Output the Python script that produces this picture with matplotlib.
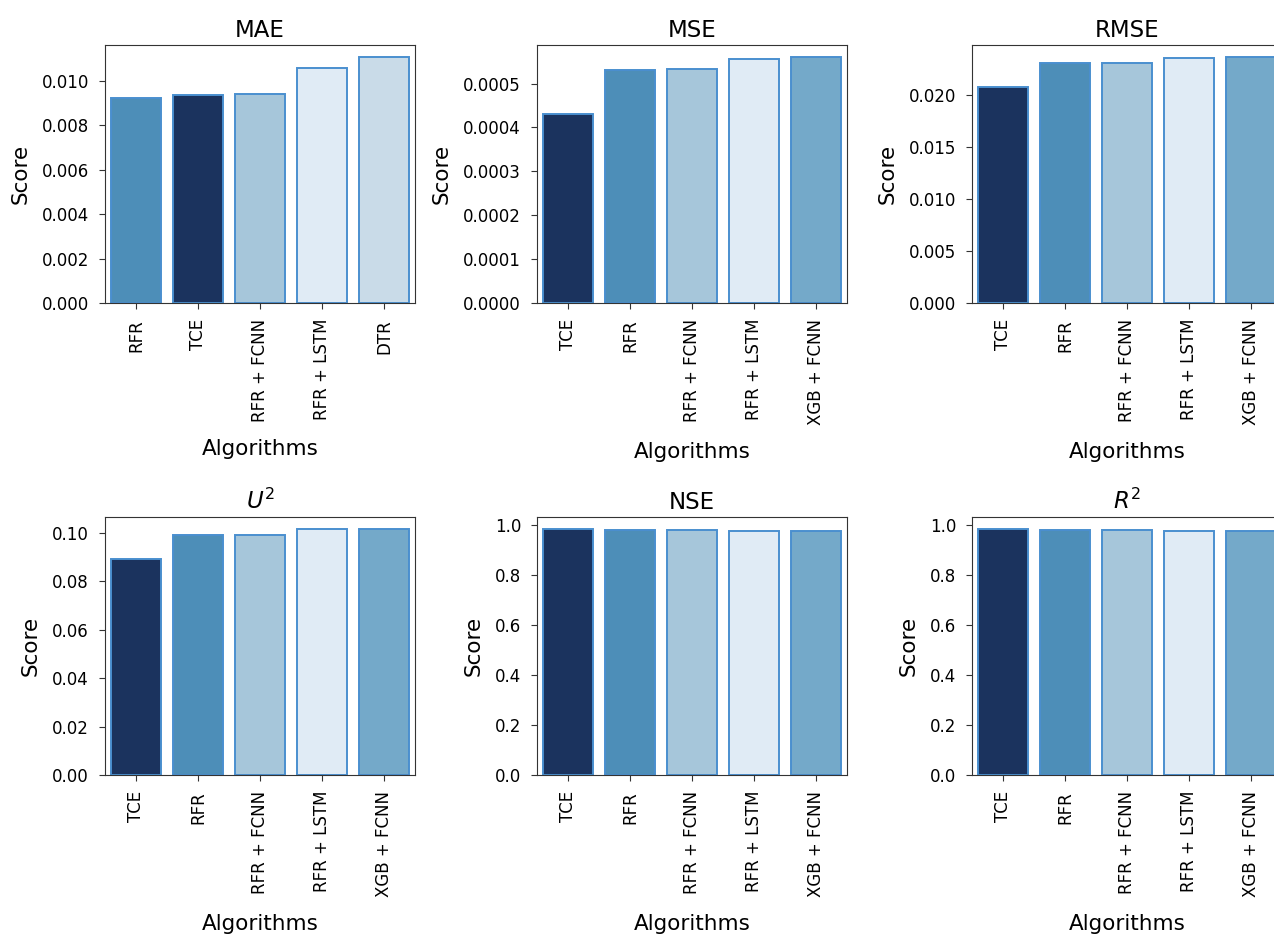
import numpy as np
import matplotlib.pyplot as plt

# algorithms per panel (order as drawn)
algos_mae = ['RFR', 'TCE', 'RFR + FCNN', 'RFR + LSTM', 'DTR']
algos_rest = ['TCE', 'RFR', 'RFR + FCNN', 'RFR + LSTM', 'XGB + FCNN']

mae = [0.00920, 0.00935, 0.00940, 0.01059, 0.01105]
mse = [0.000431, 0.000532, 0.000534, 0.000557, 0.000560]
rmse = [0.02076, 0.02307, 0.02311, 0.02360, 0.02366]
u2 = [0.0893, 0.0990, 0.0990, 0.1015, 0.1015]
nse = [0.984, 0.983, 0.983, 0.979, 0.979]
r2 = [0.984, 0.983, 0.983, 0.979, 0.979]

colors = {
    'TCE': '#1b335e',
    'RFR': '#4d8eb8',
    'RFR + FCNN': '#a6c6da',
    'RFR + LSTM': '#e0ebf5',
    'XGB + FCNN': '#74a9c9',
    'DTR': '#c9dbe8',
}

panels = [
    ('MAE', algos_mae, mae),
    ('MSE', algos_rest, mse),
    ('RMSE', algos_rest, rmse),
    ('$U^2$', algos_rest, u2),
    ('NSE', algos_rest, nse),
    ('$R^2$', algos_rest, r2),
]

W, H = 1274, 935
fig = plt.figure(figsize=(W / 100, H / 100), dpi=100)

lefts = [105, 537, 972]
tops = [45, 517]
aw, ah = 310, 258

for i, (title, algos, vals) in enumerate(panels):
    r, c = divmod(i, 3)
    ax = fig.add_axes([lefts[c] / W, 1 - (tops[r] + ah) / H, aw / W, ah / H])
    x = np.arange(len(algos))
    ax.bar(x, vals, width=0.8, color=[colors[a] for a in algos],
           edgecolor='#4a8fcf', linewidth=1.4)
    ax.set_xlim(-0.5, len(algos) - 0.5)
    ax.set_xticks(x)
    ax.set_xticklabels(algos, rotation=90)
    ax.tick_params(labelsize=12, length=4.5, pad=7, color='#333333')
    ax.set_title(title, fontsize=16.5)
    ax.set_xlabel('Algorithms', fontsize=15.5, labelpad=12)
    ax.set_ylabel('Score', fontsize=15.5, labelpad=8)
    for s in ax.spines.values():
        s.set_color('#333333')

fig.savefig('out.png', dpi=100)
